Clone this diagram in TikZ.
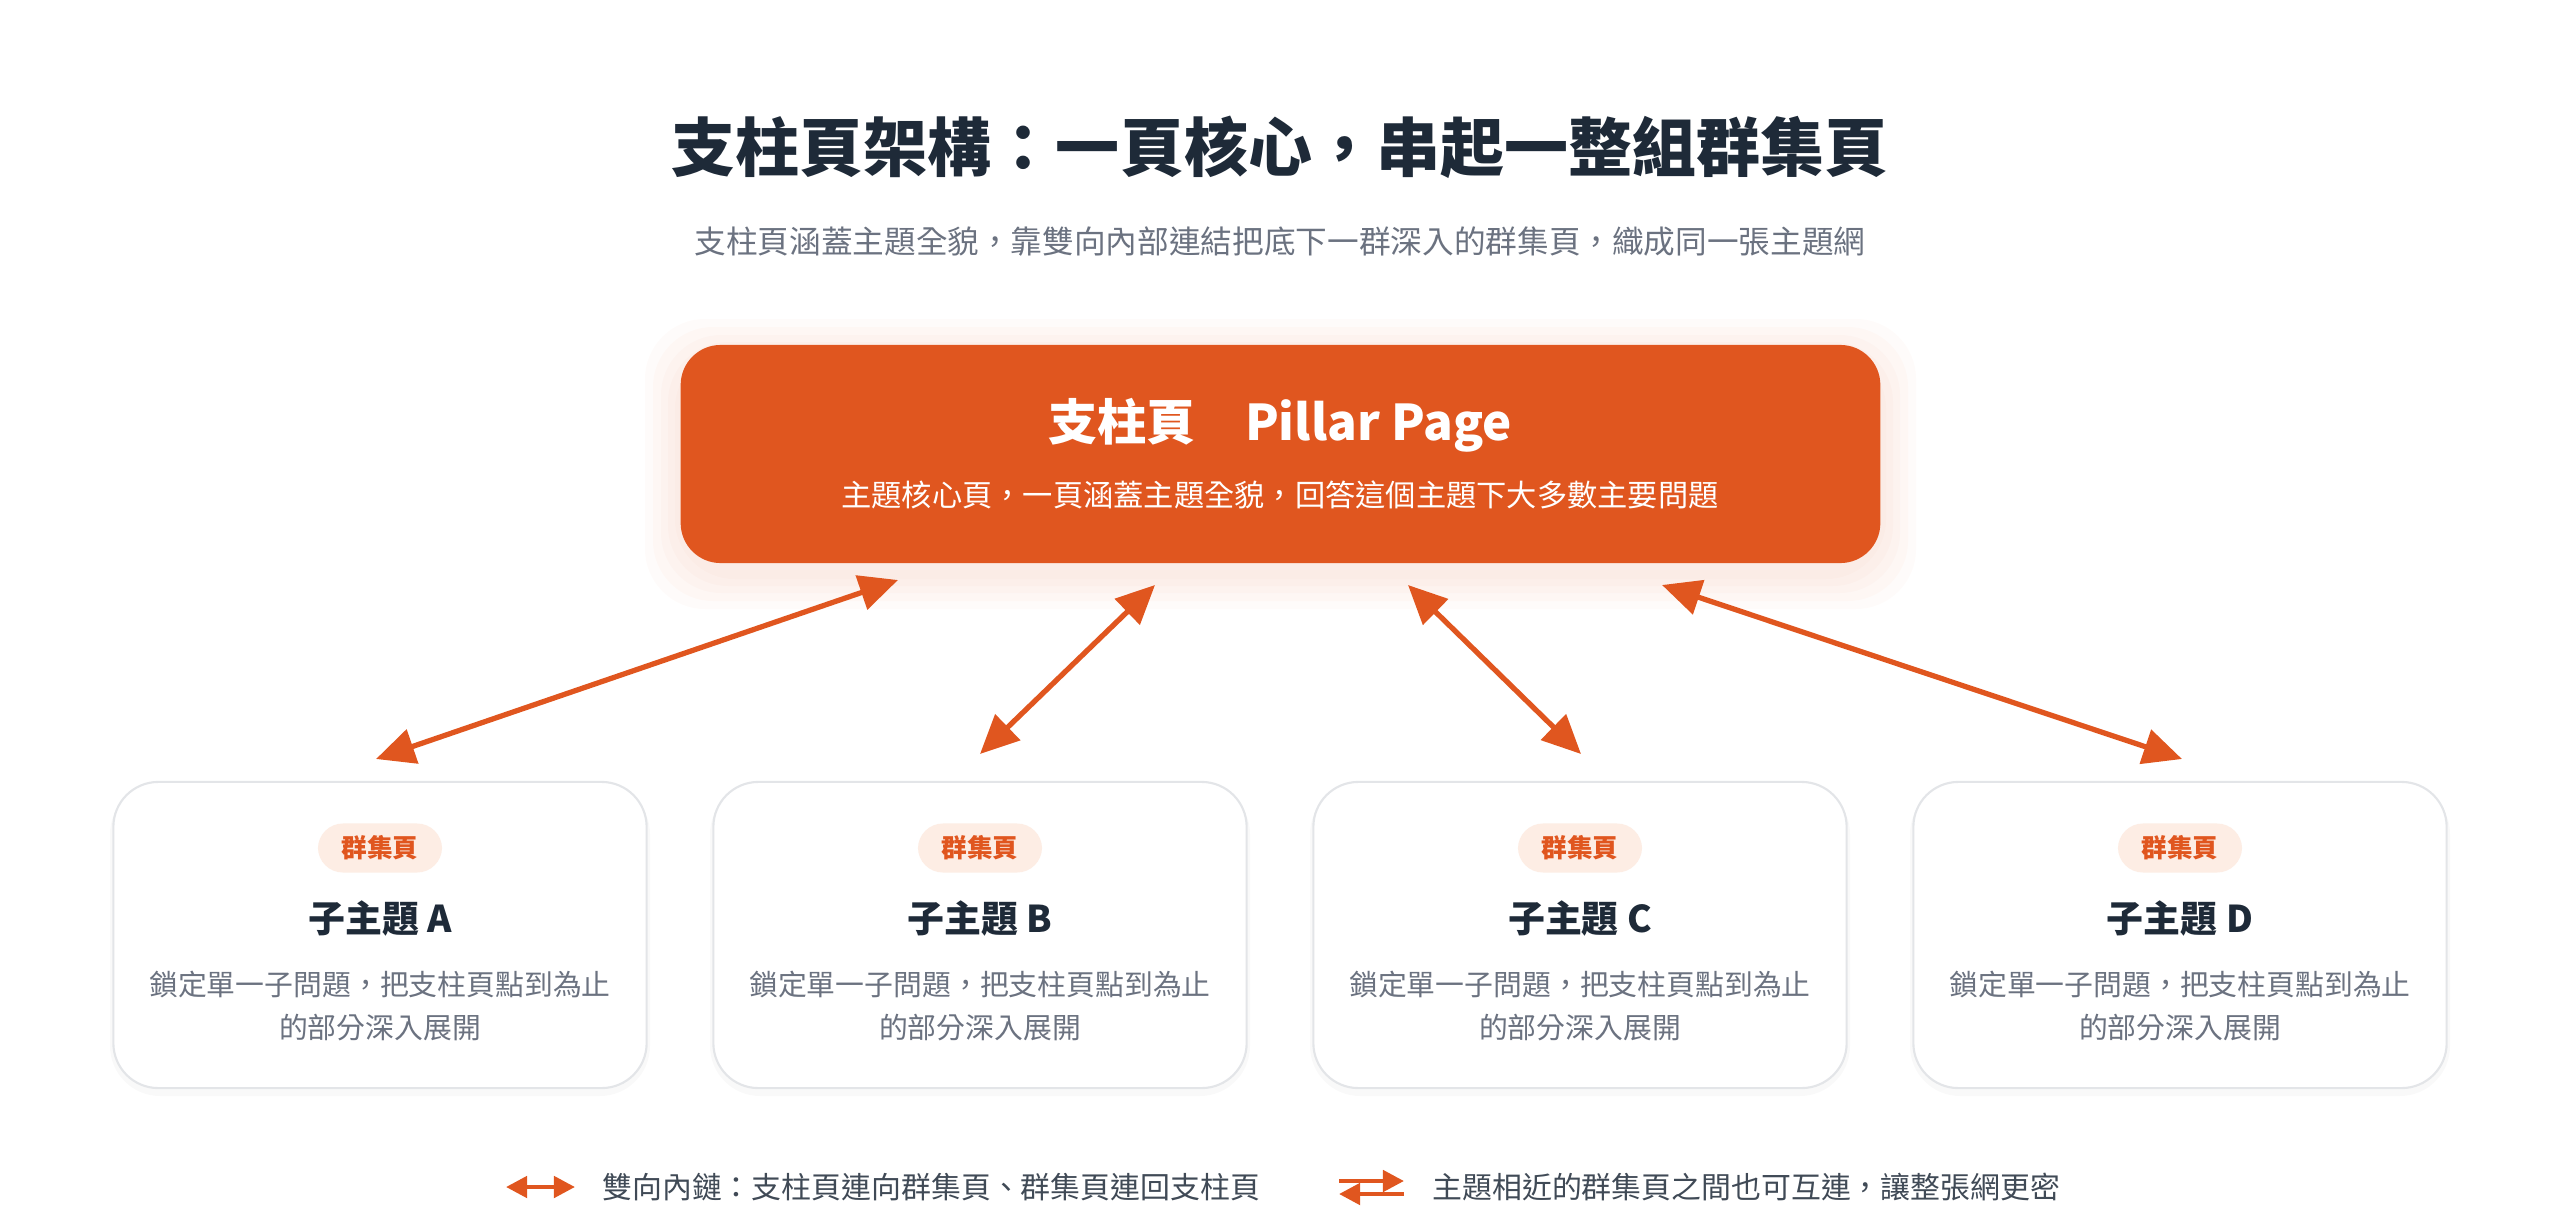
\documentclass[tikz,border=0pt]{standalone}
\usepackage{fontspec}
\setmainfont{Noto Sans CJK TC}
\usetikzlibrary{arrows.meta}
\usetikzlibrary{positioning}
\definecolor{pillar}{HTML}{E0561F}
\definecolor{ink}{HTML}{1E2A38}
\definecolor{muted}{HTML}{6B7280}
\definecolor{pilltint}{HTML}{FDEDE4}
\definecolor{cardline}{HTML}{E3E5E8}

\begin{document}
\begin{tikzpicture}[
            x = 0.01cm, y = -0.01cm, % pixel grid
            > = {Triangle[length=11pt, width=10pt]}, % arrow head style
            link/.style = {<->, draw = pillar, line width = 1.5pt},
            card/.style = {draw = cardline, line width = 0.6pt, fill = white,
                rounded corners = 0.45cm, minimum width = 5.33cm, minimum height = 3.06cm},
            pill/.style = {fill = pilltint, text = pillar, font = \fontsize{7.3}{9}\selectfont\bfseries,
                rounded corners = 0.25cm, minimum width = 1.24cm, minimum height = 0.49cm, inner sep = 0pt},
            topic/.style = {text = ink, font = \fontsize{10.5}{13}\selectfont\bfseries},
            desc/.style = {text = muted, font = \fontsize{8.2}{12.5}\selectfont, align = center},
            key/.style = {anchor = west, text = ink!85, font = \fontsize{8.5}{11}\selectfont}
        ]

        \useasboundingbox (0,0) rectangle (2560,1224);

        % heading
        \node[text = ink, font = \fontsize{18.2}{22}\selectfont\bfseries] (title) at (1280,147)
            {支柱頁架構：一頁核心，串起一整組群集頁};
        \node[text = muted, font = \fontsize{9}{12}\selectfont] (sub) at (1280,242)
            {支柱頁涵蓋主題全貌，靠雙向內部連結把底下一群深入的群集頁，織成同一張主題網};

        % pillar page
        \foreach \g in {36,28,20,13,6}
            \fill[pillar, opacity = 0.025, rounded corners = 0.6cm]
                (681-\g,345-\g+10) rectangle (1880+\g,563+\g+10);
        \node[fill = pillar, rounded corners = 0.4cm, minimum width = 11.99cm,
              minimum height = 2.18cm] (P) at (1280.5,454) {};
        \node[text = white, font = \fontsize{14}{17}\selectfont\bfseries] (Ptitle) at (1280,425)
            {支柱頁\quad Pillar Page};
        \node[text = white, font = \fontsize{8.6}{11}\selectfont] (Psub) at (1280,495)
            {主題核心頁，一頁涵蓋主題全貌，回答這個主題下大多數主要問題};

        % cluster pages
        \foreach \n/\x/\l in {A/380/A, B/980/B, C/1580/C, D/2180/D} {
            \fill[black, opacity = 0.025, rounded corners = 0.5cm]
                (\x-270,784) rectangle (\x+270,1096);
            \node[card] (\n) at (\x,935) {};
            \node[pill] (\n pill) at (\x,848) {群集頁};
            \node[topic] (\n title) at (\x,919) {子主題 \l};
            \node[desc] (\n desc) at (\x,1006) {鎖定單一子問題，把支柱頁點到為止\\的部分深入展開};
        }

        % two-way links
        \coordinate (pa) at (898,580);  \coordinate (ca) at (376,759);
        \coordinate (pb) at (1155,585); \coordinate (cb) at (980,754);
        \coordinate (pc) at (1408,585); \coordinate (cc) at (1581,754);
        \coordinate (pd) at (1662,585); \coordinate (cd) at (2182,759);
        \draw[link] (ca) -- (pa);
        \draw[link] (cb) -- (pb);
        \draw[link] (cc) -- (pc);
        \draw[link] (cd) -- (pd);

        % legend
        \coordinate (k1a) at (506,1187); \coordinate (k1b) at (575,1187);
        \draw[<->, draw = pillar, line width = 1.3pt,
              >={Triangle[length=6pt, width=6pt]}] (k1a) -- (k1b);
        \node[key] (k1) at (590,1187) {雙向內鏈：支柱頁連向群集頁、群集頁連回支柱頁};
        \coordinate (k2a) at (1339,1181); \coordinate (k2b) at (1404,1181);
        \coordinate (k2c) at (1404,1194); \coordinate (k2d) at (1339,1194);
        \draw[->, draw = pillar, line width = 1.3pt,
              >={Triangle[length=6pt, width=6pt]}] (k2a) -- (k2b);
        \draw[->, draw = pillar, line width = 1.3pt,
              >={Triangle[length=6pt, width=6pt]}] (k2c) -- (k2d);
        \node[key] (k2) at (1420,1187) {主題相近的群集頁之間也可互連，讓整張網更密};

\end{tikzpicture}
\end{document}
